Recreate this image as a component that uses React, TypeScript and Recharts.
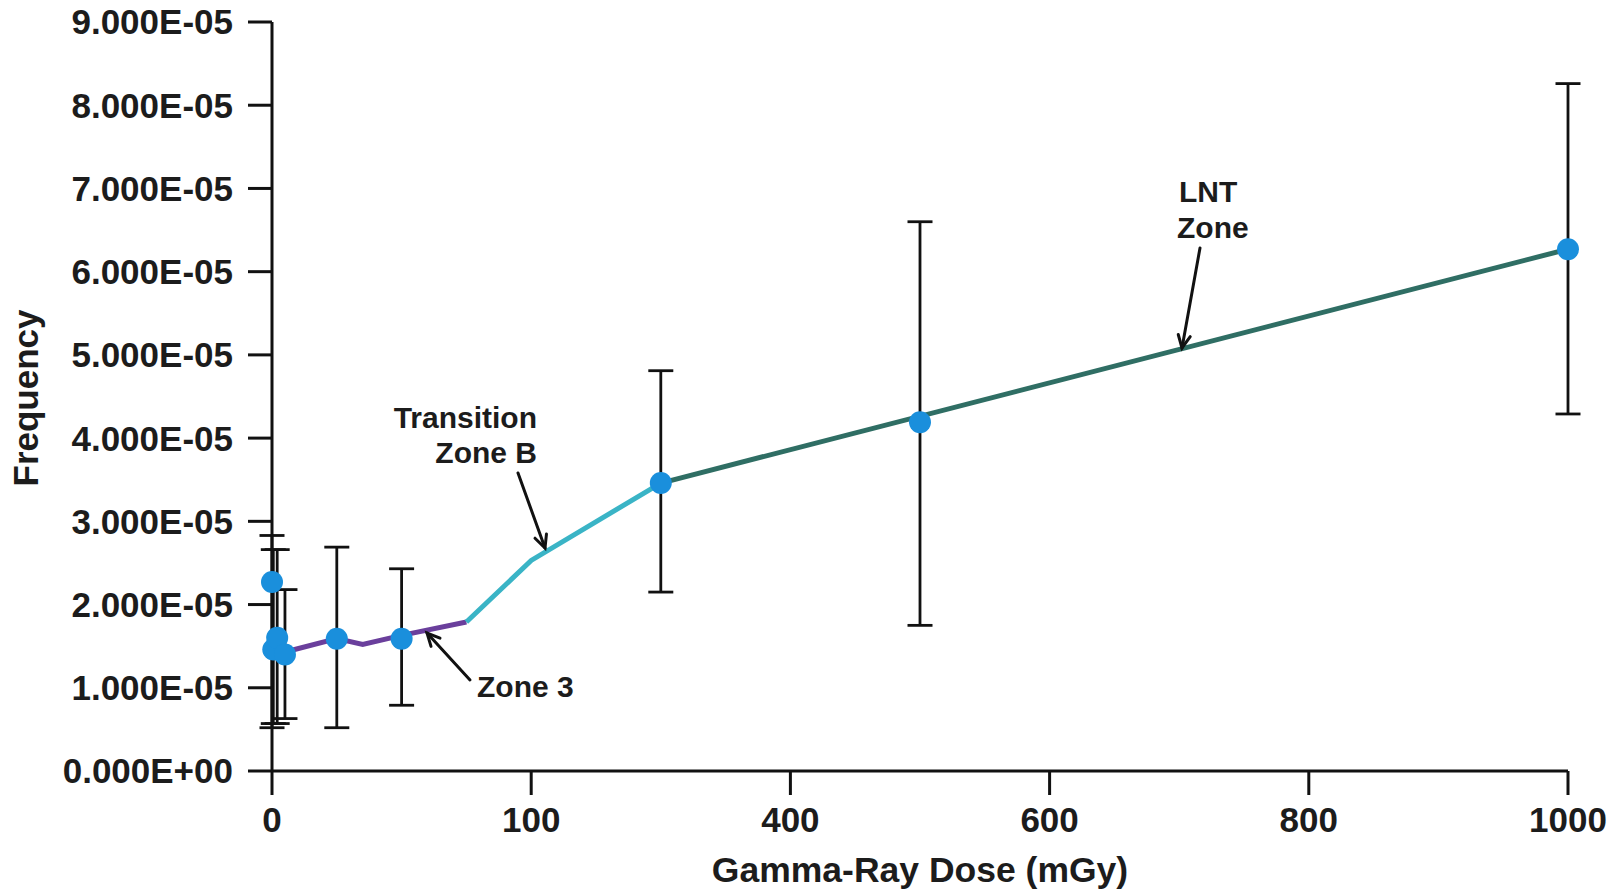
import React from 'react';
import { ComposedChart, Line, Scatter, XAxis, YAxis, ErrorBar, Label } from 'recharts';

// ---- data ----
const doses = [0, 1, 4, 10, 50, 100, 300, 500, 1000];
const frequencies = [2.27e-5, 1.46e-5, 1.6e-5, 1.4e-5, 1.59e-5, 1.59e-5, 3.46e-5, 4.19e-5, 6.27e-5];
const upperBounds = [2.83e-5, 2.66e-5, 2.66e-5, 2.18e-5, 2.69e-5, 2.43e-5, 4.81e-5, 6.6e-5, 8.26e-5];
const lowerBounds = [0.52e-5, 0.57e-5, 0.57e-5, 0.63e-5, 0.52e-5, 0.79e-5, 2.15e-5, 1.75e-5, 4.29e-5];

const zone3Doses = [10, 50, 70, 100, 150];
const zone3Freq = [1.43e-5, 1.59e-5, 1.52e-5, 1.63e-5, 1.79e-5];
const transitionDoses = [150, 200, 300];
const transitionFreq = [1.79e-5, 2.53e-5, 3.46e-5];
const lntDoses = [300, 1000];
const lntFreq = [3.46e-5, 6.27e-5];

const xTicks = [0, 200, 400, 600, 800, 1000];
const xTickLabels = ['0', '100', '400', '600', '800', '1000'];
const yTicks = [0, 1e-5, 2e-5, 3e-5, 4e-5, 5e-5, 6e-5, 7e-5, 8e-5, 9e-5];
const yTickLabels = [
  '0.000E+00', '1.000E-05', '2.000E-05', '3.000E-05', '4.000E-05',
  '5.000E-05', '6.000E-05', '7.000E-05', '8.000E-05', '9.000E-05',
];

// ---- tables built from the arrays ----
const pointData = doses.map((d, i) => ({
  x: d,
  y: frequencies[i],
  err: [frequencies[i] - lowerBounds[i], upperBounds[i] - frequencies[i]],
}));
const zone3Data = zone3Doses.map((d, i) => ({ x: d, y: zone3Freq[i] }));
const transitionData = transitionDoses.map((d, i) => ({ x: d, y: transitionFreq[i] }));
const lntData = lntDoses.map((d, i) => ({ x: d, y: lntFreq[i] }));

const FONT = '"Liberation Sans", Arial, Helvetica, sans-serif';
const TEXT = '#1c1c1c';
const W = 1621;
const H = 889;

const tickStyle = { fill: TEXT, fontSize: 35, fontWeight: 700, fontFamily: FONT };

function Arrow({ x1, y1, x2, y2 }: { x1: number; y1: number; x2: number; y2: number }) {
  const ang = Math.atan2(y2 - y1, x2 - x1);
  const len = 14;
  const spread = 0.45;
  const ax = x2 - len * Math.cos(ang - spread);
  const ay = y2 - len * Math.sin(ang - spread);
  const bx = x2 - len * Math.cos(ang + spread);
  const by = y2 - len * Math.sin(ang + spread);
  return (
    <g stroke="#111" strokeWidth={3} fill="none" strokeLinecap="round">
      <line x1={x1} y1={y1} x2={x2} y2={y2} />
      <polyline points={`${ax},${ay} ${x2},${y2} ${bx},${by}`} />
    </g>
  );
}

const annStyle = { fill: TEXT, fontSize: 30, fontWeight: 700, fontFamily: FONT } as const;

export default function App() {
  return (
    <div style={{ position: 'fixed', left: 0, top: 0, width: W, height: H, background: '#fff' }}>
      <ComposedChart width={W} height={H} margin={{ top: 22, right: 53, bottom: 0, left: 0 }}>
        <XAxis
          dataKey="x"
          type="number"
          domain={[0, 1000]}
          ticks={xTicks}
          height={118}
          tickSize={24}
          tickMargin={12}
          tick={tickStyle}
          tickFormatter={(v: number, i: number) => xTickLabels[i] ?? String(v)}
          axisLine={{ stroke: '#111', strokeWidth: 3 }}
          tickLine={{ stroke: '#111', strokeWidth: 3 }}
          interval={0}
        >
          <Label
            value="Gamma-Ray Dose (mGy)"
            position="insideBottom"
            offset={7}
            style={{ fill: TEXT, fontSize: 35.5, fontWeight: 700, fontFamily: FONT }}
          />
        </XAxis>
        <YAxis
          dataKey="y"
          type="number"
          domain={[0, 9e-5]}
          ticks={yTicks}
          width={272}
          tickSize={24}
          tickMargin={15}
          tick={tickStyle}
          tickFormatter={(v: number, i: number) => yTickLabels[i] ?? String(v)}
          axisLine={{ stroke: '#111', strokeWidth: 3 }}
          tickLine={{ stroke: '#111', strokeWidth: 3 }}
          interval={0}
          label={{
            content: () => (
              <text
                x={38}
                y={398}
                transform="rotate(-90 38 398)"
                textAnchor="middle"
                style={{ fill: TEXT, fontSize: 35, fontWeight: 700, fontFamily: FONT }}
              >
                Frequency
              </text>
            ),
          }}
        />
        <Line
          data={zone3Data}
          dataKey="y"
          type="linear"
          stroke="#6a3f9c"
          strokeWidth={5}
          dot={false}
          activeDot={false}
          isAnimationActive={false}
        />
        <Line
          data={transitionData}
          dataKey="y"
          type="linear"
          stroke="#3ab4c6"
          strokeWidth={5}
          dot={false}
          activeDot={false}
          isAnimationActive={false}
        />
        <Line
          data={lntData}
          dataKey="y"
          type="linear"
          stroke="#2f6e64"
          strokeWidth={5}
          dot={false}
          activeDot={false}
          isAnimationActive={false}
        />
        <Scatter
          data={pointData}
          dataKey="y"
          isAnimationActive={false}
          shape={(p: any) => <circle cx={p.cx} cy={p.cy} r={11} fill="#1a8fdc" />}
        >
          <ErrorBar dataKey="err" direction="y" width={12.5} stroke="#111" strokeWidth={2.8} />
        </Scatter>
      </ComposedChart>
      <svg
        width={W}
        height={H}
        style={{ position: 'absolute', left: 0, top: 0, pointerEvents: 'none' }}
      >
        <text x={537} y={428} textAnchor="end" style={annStyle}>Transition</text>
        <text x={537} y={463} textAnchor="end" style={annStyle}>Zone B</text>
        <Arrow x1={518} y1={473} x2={545} y2={548} />
        <text x={477} y={697} textAnchor="start" style={annStyle}>Zone 3</text>
        <Arrow x1={470} y1={680} x2={427} y2={633} />
        <text x={1179} y={202} textAnchor="start" style={annStyle}>LNT</text>
        <text x={1177} y={238} textAnchor="start" style={annStyle}>Zone</text>
        <Arrow x1={1200} y1={248} x2={1182} y2={348} />
      </svg>
    </div>
  );
}
